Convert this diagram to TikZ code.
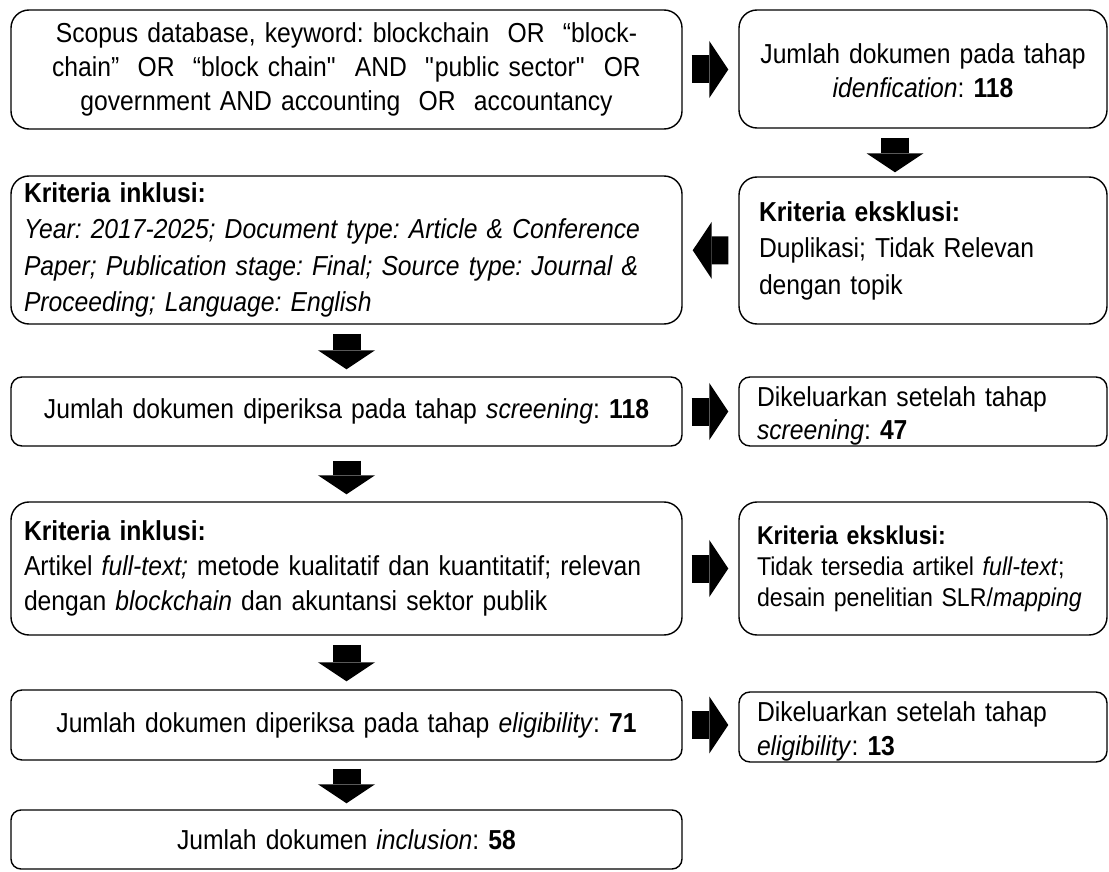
\documentclass[tikz,border=0pt]{standalone}
\usepackage{fontspec}
\setmainfont[FakeStretch=0.9]{Liberation Sans}
\usetikzlibrary{arrows.meta,calc}
\frenchspacing
\newdimen\pxu
\pxu=0.025cm
\tikzset{
  box/.style={draw, black, line width=1pt, rounded corners=18\pxu, inner ysep=0pt, align=left, font=\fontsize{19.5pt}{24pt}\selectfont},
  leftbox/.style={box, inner xsep=13\pxu, text width=645\pxu},
  rightbox/.style={box, inner xsep=18\pxu, text width=332\pxu},
  lowtext/.style={text height=20\pxu, text depth=31\pxu},
  fatarrow/.style={line width=28\pxu, -{Triangle[length=0.475cm, width=1.425cm, line width=0pt]}}
}
\begin{document}
\begin{tikzpicture}[x=0.025cm, y=-0.025cm]
  \useasboundingbox (0,0) rectangle (1109,872);
  % search box
  \node [leftbox, align=center, minimum height=119\pxu] (search) at (346.5,69.5)
    {Scopus database, keyword: blockchain~ OR~ “block-\\
     chain”~ OR~ “block chain\textquotedbl~ AND~ \textquotedbl public sector\textquotedbl~ OR\\
     government AND accounting~ OR~ accountancy};
  % identification
  \node [rightbox, align=center, minimum height=118\pxu, lowtext] (ident) at (923,69)
    {Jumlah dokumen pada tahap\\ \textit{idenfication}: \textbf{118}};
  % first exclusion
  \node [rightbox, inner xsep=20\pxu, text width=328\pxu, minimum height=147\pxu, font=\fontsize{19.5pt}{26pt}\selectfont] (exclA) at (923,250.5)
    {\textbf{Kriteria eksklusi:}\\ Duplikasi; Tidak Relevan\\ dengan topik};
  % first inclusion
  \node [leftbox, minimum height=148\pxu, font=\fontsize{19.5pt}{26pt}\selectfont] (inclA) at (346.5,250)
    {\textbf{Kriteria inklusi:}\\
     \textit{Year: 2017-2025; Document type: Article \& Conference}\\
     \textit{Paper; Publication stage: Final; Source type: Journal \&}\\
     \textit{Proceeding; Language: English}};
  % screening
  \node [leftbox, align=center, rounded corners=11\pxu, minimum height=69\pxu] (screen) at (346.5,411.5)
    {Jumlah dokumen diperiksa pada tahap \textit{screening}: \textbf{118}};
  \node [rightbox, rounded corners=11\pxu, minimum height=69\pxu, lowtext] (outA) at (923,411.5)
    {Dikeluarkan setelah tahap\\ \textit{screening}: \textbf{47}};
  % second inclusion
  \node [leftbox, minimum height=133\pxu, font=\fontsize{19.5pt}{25pt}\selectfont] (inclB) at (346.5,568.5)
    {\textbf{Kriteria inklusi:}\\
     Artikel \textit{full-text;} metode kualitatif dan kuantitatif; relevan\\
     dengan \textit{blockchain} dan akuntansi sektor publik};
  % second exclusion
  \node [rightbox, minimum height=133\pxu, font=\fontsize{18.3pt}{22pt}\selectfont] (exclB) at (923,568.5)
    {\textbf{Kriteria eksklusi:}\\ Tidak tersedia artikel \textit{full-text};\\ desain penelitian SLR/\textit{mapping}};
  % eligibility
  \node [leftbox, align=center, rounded corners=11\pxu, minimum height=70\pxu] (elig) at (346.5,725)
    {Jumlah dokumen diperiksa pada tahap \textit{eligibility}: \textbf{71}};
  \node [rightbox, rounded corners=11\pxu, minimum height=70\pxu, lowtext] (outB) at (923,727)
    {Dikeluarkan setelah tahap\\ \textit{eligibility}: \textbf{13}};
  % inclusion
  \node [leftbox, align=center, rounded corners=10\pxu, minimum height=59\pxu] (incl) at (346.5,839.5)
    {Jumlah dokumen \textit{inclusion}: \textbf{58}};
  % arrows right
  \draw [fatarrow, shorten <=9\pxu, shorten >=10\pxu] (search) -- (search -| ident.west);
  \draw [fatarrow, shorten <=9\pxu, shorten >=10\pxu] (screen) -- (outA);
  \draw [fatarrow, shorten <=9\pxu, shorten >=10\pxu] (inclB) -- (exclB);
  \draw [fatarrow, shorten <=9\pxu, shorten >=10\pxu] (elig.east) -- (elig.east -| outB.west);
  % arrow left
  \draw [fatarrow, shorten <=10\pxu, shorten >=10\pxu] (exclA) -- (inclA);
  % arrows down
  \draw [fatarrow, shorten <=9\pxu, shorten >=4\pxu] ($(ident.south)+(-28,0)$) -- ($(exclA.north)+(-28,0)$);
  \draw [fatarrow, shorten <=9\pxu, shorten >=7\pxu] (inclA) -- (screen);
  \draw [fatarrow, shorten <=14\pxu, shorten >=7\pxu] (screen) -- (inclB);
  \draw [fatarrow, shorten <=9\pxu, shorten >=8\pxu] (inclB) -- (elig);
  \draw [fatarrow, shorten <=8\pxu, shorten >=6\pxu] (elig) -- (incl);
\end{tikzpicture}
\end{document}
